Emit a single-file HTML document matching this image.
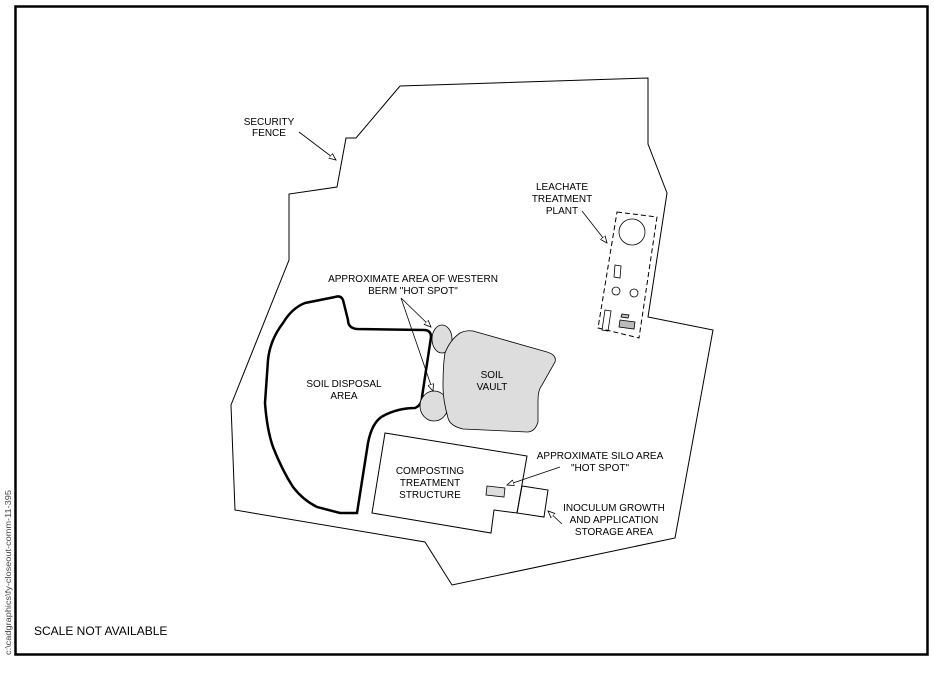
<!DOCTYPE html>
<html><head><style>
html,body{margin:0;padding:0;background:#fff;}
svg{display:block;}
text{font-family:"Liberation Sans",sans-serif;font-size:10px;fill:#000;}
</style></head><body>
<svg width="934" height="685" viewBox="0 0 934 685" xmlns="http://www.w3.org/2000/svg">
<defs>
<marker id="a" markerWidth="8" markerHeight="8" refX="7" refY="4" orient="auto" markerUnits="userSpaceOnUse">
<path d="M0,1 L7,4 L0,7 Z" fill="#fff" stroke="#000" stroke-width="0.8"/>
</marker>
</defs>
<rect x="0" y="0" width="934" height="685" fill="#fff"/>
<rect x="15.5" y="6.5" width="912" height="648" fill="none" stroke="#000" stroke-width="2.5"/>
<polygon points="400,86 648,78 648,144 667,193 648,317 713,330 675,538 452,585 425,542 235,510 231,405 289,260 289,194 337,187 346,138 356,138" fill="none" stroke="#000" stroke-width="1"/>
<path d="M357,513 L368,443 Q372,422 383,416 Q398,408 415,408 Q422,405 422,397 L431,337 Q431,330 424,330 L357,329 Q348,328 348,320 L343,300 Q341,295 335,297 L305,303 Q292,308 283,323 Q270,340 268,360 L265,403 Q267,430 273,447 Q282,470 293,487 Q303,500 317,507 L340,513 Z" fill="none" stroke="#000" stroke-width="2.5"/>
<ellipse cx="442" cy="339" rx="10" ry="14" fill="#ddd" stroke="#000" stroke-width="0.8"/>
<ellipse cx="434" cy="406" rx="14" ry="15" fill="#ddd" stroke="#000" stroke-width="0.8"/>
<path d="M460,333 Q466,330 473,331 L547,352 Q557,355 555,362 L542,385 Q538,390 538,400 L538,422 Q535,432 527,432 L463,429 Q450,426 448,418 Q443,400 443,387 Q443,365 445,353 Q450,340 460,333 Z" fill="#ddd" stroke="#000" stroke-width="0.8"/>
<polygon points="385,433 527,456 517,513 494,510 491,533 372,513" fill="none" stroke="#000" stroke-width="1"/>
<polygon points="522,486 548,490 544,517 517,513" fill="none" stroke="#000" stroke-width="1"/>
<polygon points="487,486 505,488 504,497 486,495" fill="#ddd" stroke="#000" stroke-width="0.8"/>
<polygon points="617,212 657,217 639,338 598,328" fill="none" stroke="#000" stroke-width="1" stroke-dasharray="5,3"/>
<circle cx="632" cy="232" r="13" fill="none" stroke="#000" stroke-width="0.8"/>
<polygon points="615,265 621,266 620,278 614,277" fill="none" stroke="#000" stroke-width="0.8"/>
<circle cx="616" cy="291" r="4" fill="none" stroke="#000" stroke-width="0.8"/>
<circle cx="634" cy="293" r="4" fill="none" stroke="#000" stroke-width="0.8"/>
<polygon points="605,310 611,311 608,331 602,330" fill="none" stroke="#000" stroke-width="0.8"/>
<polygon points="620,320 635,322 634,329 619,327" fill="#bbb" stroke="#000" stroke-width="0.8"/>
<polygon points="622,314 629,315 628,318 621,317" fill="#bbb" stroke="#000" stroke-width="0.8"/>
<g stroke="#000" stroke-width="0.8" fill="none">
<line x1="299" y1="132" x2="336" y2="160" marker-end="url(#a)"/>
<line x1="582" y1="211" x2="607" y2="243" marker-end="url(#a)"/>
<line x1="401" y1="298" x2="431" y2="327" marker-end="url(#a)"/>
<line x1="401" y1="298" x2="433" y2="391" marker-end="url(#a)"/>
<line x1="560" y1="467" x2="507" y2="485" marker-end="url(#a)"/>
<line x1="562" y1="524" x2="548" y2="511" marker-end="url(#a)"/>
</g>
<g text-anchor="middle">
<text x="269" y="125">SECURITY</text>
<text x="269" y="136">FENCE</text>
<text x="562" y="190">LEACHATE</text>
<text x="562" y="202">TREATMENT</text>
<text x="562" y="214">PLANT</text>
<text x="413" y="282">APPROXIMATE AREA OF WESTERN</text>
<text x="413" y="294">BERM "HOT SPOT"</text>
<text x="344" y="387">SOIL DISPOSAL</text>
<text x="344" y="399">AREA</text>
<text x="492" y="378">SOIL</text>
<text x="492" y="390">VAULT</text>
<text x="430" y="474">COMPOSTING</text>
<text x="430" y="486">TREATMENT</text>
<text x="430" y="498">STRUCTURE</text>
<text x="600" y="459">APPROXIMATE SILO AREA</text>
<text x="600" y="471">"HOT SPOT"</text>
<text x="614" y="511">INOCULUM GROWTH</text>
<text x="614" y="523">AND APPLICATION</text>
<text x="614" y="535">STORAGE AREA</text>
</g>
<text x="34" y="635" style="font-size:12px">SCALE NOT AVAILABLE</text>
<text transform="translate(11,655) rotate(-90)" textLength="165" lengthAdjust="spacingAndGlyphs" style="font-size:8px;fill:#444">c:\cadgraphics\fy-closeout-comm-11-395</text>
</svg>
</body></html>
